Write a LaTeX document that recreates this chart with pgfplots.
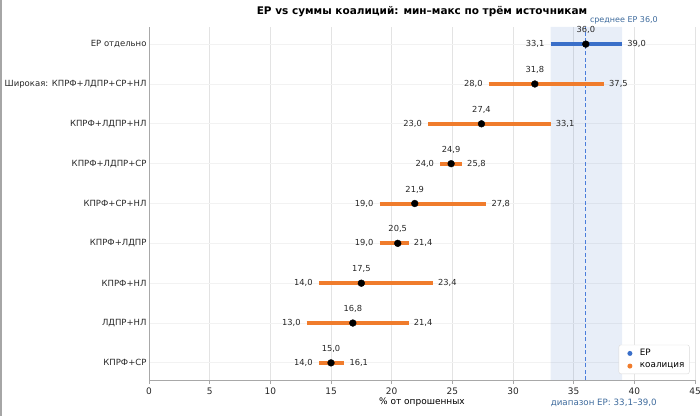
\documentclass[border=0pt]{standalone}
\usepackage{fontspec}
\setmainfont{DejaVu Sans}
\usepackage{pgfplots}
\pgfplotsset{compat=1.18}
\usepackage{pgfplotstable}
\definecolor{erblue}{HTML}{3A6FC9}
\definecolor{coalorange}{HTML}{F07C2C}
\definecolor{bandblue}{HTML}{4472C4}
\definecolor{notecol}{HTML}{3D6A9C}
\definecolor{dashcol}{HTML}{4A7DDB}
\definecolor{gridgray}{HTML}{E3E3E3}
\definecolor{spinegray}{HTML}{A8A8A8}

\pgfplotstableread{
y min mid max
7 28.0 31.8 37.5
6 23.0 27.4 33.1
5 24.0 24.9 25.8
4 19.0 21.9 27.8
3 19.0 20.5 21.4
2 14.0 17.5 23.4
1 13.0 16.8 21.4
0 14.0 15.0 16.1
}\coal
\pgfplotstableread{
y min mid max
8 33.1 36.0 39.0
}\er

\pgfplotsset{
  vallabel/.style={draw=none, mark=none, forget plot,
    point meta=x,
    nodes near coords={\pgfmathprintnumber[fixed, fixed zerofill, precision=1, use comma]{\pgfplotspointmeta}},
    every node near coord/.append style={font=\fontsize{8.3}{10}\selectfont, text=black!85, inner sep=0pt}},
  dotlegend/.style={legend image code/.code={\path[draw=none] (0pt,0pt) -- (16pt,0pt); \fill[##1, draw=none] (8pt,0pt) circle (2.5pt);}},
}

\begin{document}
\begin{tikzpicture}[x=1pt,y=1pt]
\begin{axis}[
  at={(149pt,36pt)}, anchor=south west,
  scale only axis, width=546pt, height=353pt,
  xmin=0, xmax=45, ymin=-0.43, ymax=8.43,
  xtick={0,5,...,45}, ytick={0,1,...,8},
  yticklabels={КПРФ+СР, ЛДПР+НЛ, КПРФ+НЛ, КПРФ+ЛДПР, КПРФ+СР+НЛ, КПРФ+ЛДПР+СР, КПРФ+ЛДПР+НЛ, {Широкая: КПРФ+ЛДПР+СР+НЛ}, ЕР отдельно},
  /pgf/number format/assume math mode=true,
  axis x line*=bottom, axis y line*=left,
  axis line style={spinegray, line width=0.8pt, -},
  xticklabel style={font=\fontsize{9}{11}\selectfont, text=black!85},
  yticklabel style={font=\fontsize{8.5}{10}\selectfont, text=black!85, xshift=5pt},
  xtick style={spinegray, line width=0.8pt},
  ytick style={draw=none},
  tick align=outside, major tick length=4pt,
  xmajorgrids, ymajorgrids,
  x grid style={gridgray, line width=0.8pt},
  y grid style={black!5, line width=0.8pt},
  xlabel={\% от опрошенных},
  xlabel style={font=\fontsize{9}{11}\selectfont, yshift=3pt},
  clip=false,
  legend style={at={(0.99,0.017)}, anchor=south east, draw=black!15, rounded corners=2pt,
    font=\fontsize{8.8}{10}\selectfont, row sep=1.5pt, inner xsep=3pt, inner ysep=2.5pt,
    nodes={inner xsep=2pt}},
  legend cell align=left,
]
% ER range band and mean line
\addplot[draw=none, fill=bandblue, fill opacity=0.12, forget plot]
  coordinates {(33.1,-0.43) (39,-0.43) (39,8.43) (33.1,8.43) (33.1,-0.43)};
\addplot[dashcol, dash pattern=on 4pt off 2.5pt, line width=1.3pt, forget plot]
  coordinates {(36,-0.43) (36,8.43)};
% ranges
\addplot[erblue, line width=4pt, forget plot] coordinates {(33.1,8) (39.0,8)};
\addplot[coalorange, line width=4pt, forget plot] coordinates {(28.0,7) (37.5,7)};
\addplot[coalorange, line width=4pt, forget plot] coordinates {(23.0,6) (33.1,6)};
\addplot[coalorange, line width=4pt, forget plot] coordinates {(24.0,5) (25.8,5)};
\addplot[coalorange, line width=4pt, forget plot] coordinates {(19.0,4) (27.8,4)};
\addplot[coalorange, line width=4pt, forget plot] coordinates {(19.0,3) (21.4,3)};
\addplot[coalorange, line width=4pt, forget plot] coordinates {(14.0,2) (23.4,2)};
\addplot[coalorange, line width=4pt, forget plot] coordinates {(13.0,1) (21.4,1)};
\addplot[coalorange, line width=4pt, forget plot] coordinates {(14.0,0) (16.1,0)};
% mean points
\addplot[only marks, mark=*, mark size=3.4pt, black, forget plot] table[x=mid, y=y] {\er};
\addplot[only marks, mark=*, mark size=3.4pt, black, forget plot] table[x=mid, y=y] {\coal};
% labels
\addplot[vallabel, nodes near coords style={anchor=east, xshift=-6pt}] table[x=min, y=y] {\er};
\addplot[vallabel, nodes near coords style={anchor=west, xshift=5pt}] table[x=max, y=y] {\er};
\addplot[vallabel, nodes near coords style={anchor=center, yshift=14pt}] table[x=mid, y=y] {\er};
\addplot[vallabel, nodes near coords style={anchor=east, xshift=-6pt}] table[x=min, y=y] {\coal};
\addplot[vallabel, nodes near coords style={anchor=west, xshift=5pt}] table[x=max, y=y] {\coal};
\addplot[vallabel, nodes near coords style={anchor=center, yshift=14pt}] table[x=mid, y=y] {\coal};
% annotations
\node[anchor=south west, font=\fontsize{8}{10}\selectfont, text=notecol, inner sep=0pt, xshift=4pt, yshift=3pt]
  at (axis cs:36,8.43) {среднее ЕР 36,0};
\node[anchor=north west, font=\fontsize{8.7}{10}\selectfont, text=notecol, inner sep=0pt, yshift=-19pt]
  at (axis cs:33.1,-0.43) {диапазон ЕР: 33,1–39,0};
% legend
\addlegendimage{dotlegend, erblue}
\addlegendentry{ЕР}
\addlegendimage{dotlegend, coalorange}
\addlegendentry{коалиция}
\end{axis}
\node[font=\bfseries\fontsize{10.5}{13}\selectfont] at (422,404) {ЕР vs суммы коалиций: мин–макс по трём источникам};
\fill[black!35] (0,0) rectangle (2,416);
\pgfresetboundingbox
\useasboundingbox (0,0) rectangle (700,416);
\end{tikzpicture}
\end{document}
